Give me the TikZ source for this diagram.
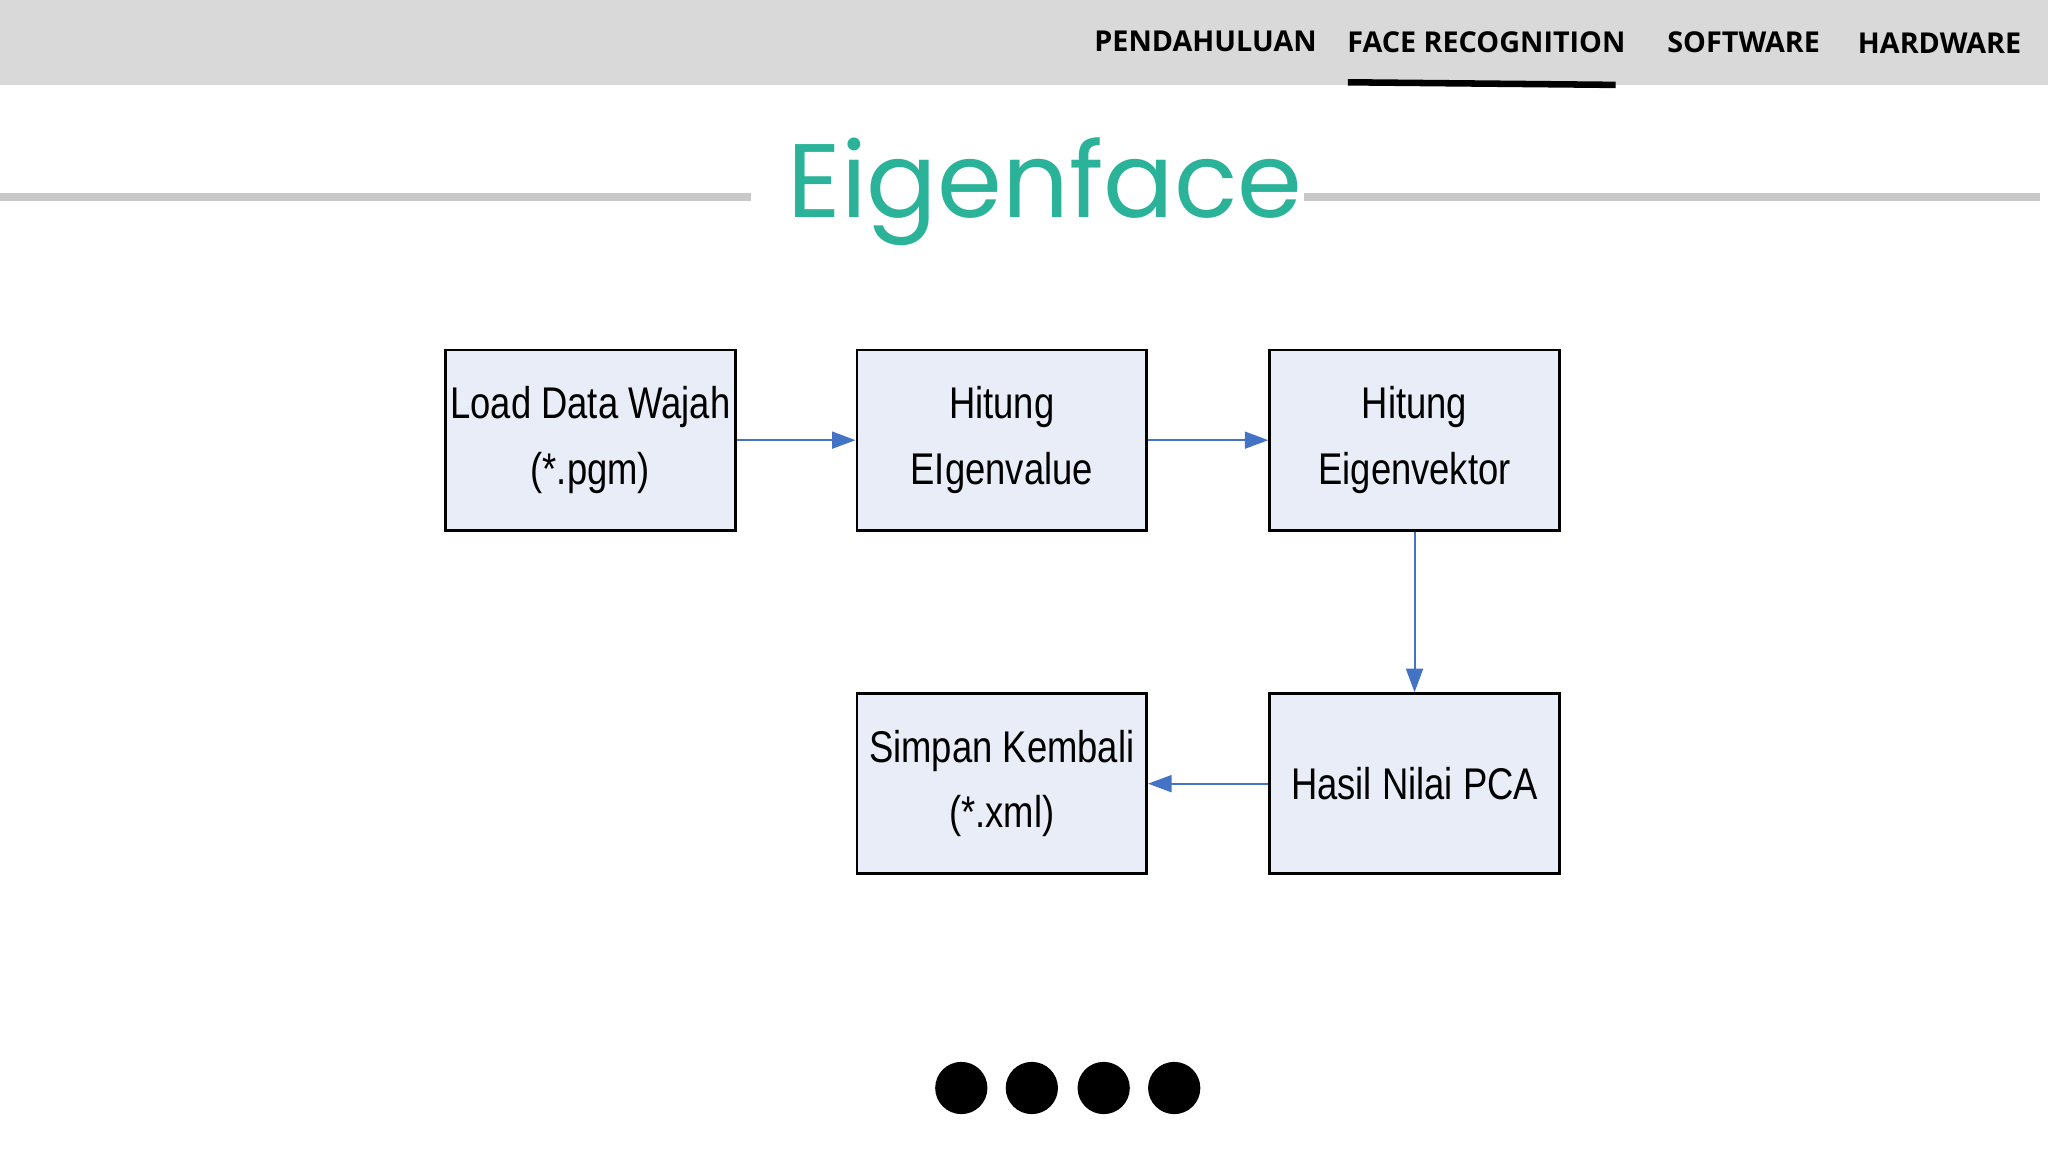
\documentclass[tikz,border=0pt]{standalone}
\usepackage{fontspec}
\setmainfont{Liberation Sans}
\newfontfamily\menufont{Open Sans}
\newfontfamily\titlefont{Poppins}
\newfontfamily\boxfont[FakeStretch=0.82]{Liberation Sans}
\usetikzlibrary{arrows.meta}
\definecolor{bargray}{HTML}{D9D9D9}
\definecolor{linegray}{HTML}{C8C8C8}
\definecolor{teal}{HTML}{2BB39A}
\definecolor{boxfill}{HTML}{E9EDF7}
\definecolor{arrowblue}{HTML}{4472C4}
\begin{document}
\begin{tikzpicture}[x=1pt,y=-1pt,
  menu/.style={font=\menufont\bfseries\fontsize{22}{26}\selectfont, text=black},
  stepbox/.style={draw=black, line width=2pt, fill=boxfill, minimum width=222pt, minimum height=138pt, align=center, font=\boxfont\fontsize{34}{50}\selectfont, inner sep=0pt},
  flow/.style={draw=arrowblue, line width=1.5pt, -{Triangle[length=18pt,width=13pt]}},
  dot/.style={circle, fill=black, minimum size=40pt, inner sep=0pt}]
\useasboundingbox (0,0) rectangle (1568,882);
\fill[white] (0,0) rectangle (1568,882);
\fill[bargray] (0,0) rectangle (1568,65);
\node[menu] (m1) at (923,32) {PENDAHULUAN};
\node[menu] (m2) at (1138,32) {FACE RECOGNITION};
\node[menu] (m3) at (1335,32) {SOFTWARE};
\node[menu] (m4) at (1485,33) {HARDWARE};
\draw[line width=5pt] (1032,63) -- (1237,65);
\draw[linegray, line width=6pt] (0,151) -- (575,151);
\draw[linegray, line width=6pt] (998,151) -- (1562,151);
\node[text=teal, font=\titlefont\fontsize{80}{90}\selectfont] (title) at (800,147) {Eigenface};
\node[stepbox] (b1) at (452,337) {Load Data Wajah\\(*.pgm)};
\node[stepbox] (b2) at (767,337) {Hitung\\EIgenvalue};
\node[stepbox] (b3) at (1083,337) {Hitung\\Eigenvektor};
\node[stepbox] (b4) at (1083,600) {Hasil Nilai PCA};
\node[stepbox] (b5) at (767,600) {Simpan Kembali\\(*.xml)};
\draw[flow] (b1) -- (b2);
\draw[flow] (b2) -- (b3);
\draw[flow] (b3) -- (b4);
\draw[flow] (b4) -- (b5);
\node[dot] (d1) at (736,833) {};
\node[dot] (d2) at (790,833) {};
\node[dot] (d3) at (845,833) {};
\node[dot] (d4) at (899,833) {};
\end{tikzpicture}
\end{document}
